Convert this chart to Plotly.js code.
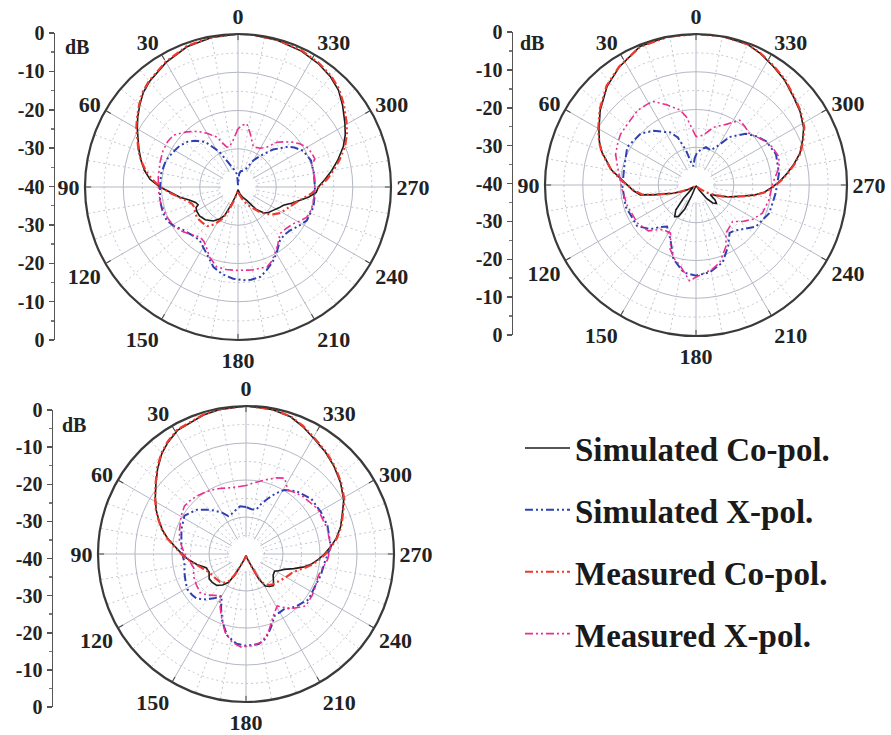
<!DOCTYPE html>
<html><head><meta charset="utf-8">
<script src="https://cdn.plot.ly/plotly-3.0.1.min.js"></script>
<style>html,body{margin:0;padding:0;background:#fff}#chart{width:891px;height:735px}</style>
</head><body><div id="chart"></div>
<script>
// ---------- angular / radial labels ----------
const ANG_TICKS = [0,30,60,90,120,150,180,210,240,270,300,330];
const ANG_MINOR = [10,20,40,50,70,80,100,110,130,140,160,170,190,200,220,230,250,260,280,290,310,320,340,350];
const RING_MAJOR = [-30,-20,-10];
const RING_MINOR = [-35,-25,-15,-5];
const SCALE_VALS = [40,30,20,10,0,-10,-20,-30,-40];
const SCALE_TEXT = ['0','-10','-20','-30','-40','-30','-20','-10','0'];
const SERIES_NAMES = ['Simulated Co-pol.','Simulated X-pol.','Measured Co-pol.','Measured X-pol.'];

// ---------- Plot 1 (top-left) ----------
const p1SimCoT = [0,10,20,30,40,45,50,55,60,65,70,75,80,85,90,95,100,105,110,114,116,120,127,135,144,150,155,160,165,172,180,195,205,213,219,225,230,237,243,248,253,258,262,266,270,275,280,285,291,296,301,308,314,320,327,335,345,355,360];
const p1SimCoR = [0,-0.3,-1.0,-2.4,-4.0,-5.0,-6.5,-8.0,-9.6,-11.2,-12.5,-13.8,-15.2,-16.9,-19.6,-22.5,-24.6,-26.8,-28.2,-28.6,-27.8,-27.5,-27.4,-27.9,-29.0,-30.3,-31.8,-35.5,-37.5,-38.6,-39.3,-38.2,-37.0,-35.8,-32.4,-30.4,-29.6,-28.9,-28.0,-27.2,-25.4,-23.4,-21.3,-19.5,-19.0,-17.2,-15.1,-13.0,-10.5,-8.8,-7.4,-5.3,-3.5,-2.4,-1.5,-0.8,-0.3,0,0];
const p1SimXT = [0,4,10,15,22,28,36,43,48,55,60,67,72,80,90,100,108,115,122,128,135,144,150,155,163,170,177,183,188,194,199,205,210,218,224,230,237,244,255,265,270,280,290,299,305,309,317,325,330,337,345,350,355,360];
const p1SimXR = [-39.5,-36.8,-35.6,-35.0,-33.0,-29.5,-25.4,-23.5,-22.3,-21.3,-20.9,-20.2,-19.9,-19.6,-19.6,-19.3,-19.3,-19.4,-20.5,-21.8,-22.5,-22.9,-21.8,-20.7,-18.1,-16.8,-16.0,-15.6,-15.5,-15.8,-17.0,-18.5,-19.9,-22.2,-22.6,-22.3,-21.2,-20.0,-19.6,-19.8,-19.9,-19.8,-19.7,-20.5,-22.0,-23.3,-26.6,-30.2,-32.0,-35.0,-35.6,-35.8,-36.5,-39.5];
const p1MeasCoT = [0,10,20,30,40,45,50,55,60,65,70,75,80,85,90,95,100,105,110,115,120,127,135,142,148,153,158,163,170,180,190,200,207,213,220,226,232,238,244,250,255,260,265,270,275,280,285,291,296,301,308,314,320,327,335,345,355,360];
const p1MeasCoR = [0,-0.2,-0.8,-2.2,-3.8,-4.8,-6.3,-7.8,-9.3,-11.0,-12.3,-13.8,-15.5,-17.5,-19.8,-22.2,-24.4,-26.2,-27.2,-27.4,-27.0,-26.6,-26.8,-27.0,-28.5,-30.5,-33.0,-36.0,-38.2,-39.0,-38.0,-36.6,-35.0,-33.8,-31.6,-29.8,-28.4,-27.1,-26.3,-25.4,-24.3,-22.8,-20.7,-18.8,-16.6,-14.6,-12.5,-10.0,-8.3,-6.9,-4.9,-3.2,-2.1,-1.3,-0.6,-0.2,0,0];
const p1MeasXT = [0,6,12,16,20,23,30,36,43,51,57,64,72,83,92,100,113,120,127,135,143,148,152,158,165,172,179,190,200,204,207,214,222,229,236,241,246,252,258,270,280,287,290,295,300,305,309,314,319,324,330,339,343,347,352,356,360];
const p1MeasXR = [-24.8,-27.7,-29.3,-29.1,-27.5,-25.8,-23.8,-22.0,-20.3,-18.4,-18.1,-18.2,-18.6,-19.0,-19.2,-19.3,-19.8,-20.3,-21.1,-22.5,-23.6,-23.2,-22.3,-20.2,-18.4,-18.2,-18.2,-18.0,-17.8,-18.6,-19.5,-21.5,-23.6,-23.4,-22.7,-21.6,-20.4,-20.0,-19.9,-19.9,-19.8,-19.8,-18.6,-18.8,-19.2,-20.3,-21.4,-23.0,-24.5,-27.1,-28.3,-28.8,-27.5,-25.7,-23.3,-23.8,-24.8];

// ---------- Plot 2 (top-right) ----------
const p2SimCoT = [0,11,22,33,42,52,60,66,71,80,87,95,100,103,106,110,115,120,127,133,137,141,146,151,155,158,163,180,200,212,218,223,228,232,236,240,245,249,253,257,260,264,269,273,277,282,287,293,298,305,312,320,327,334,340,350,360];
const p2SimCoR = [0,0,-0.4,-2.7,-4.8,-7.8,-10.3,-12.0,-13.7,-17.3,-20.7,-23.3,-25.0,-28.4,-31.5,-33.6,-36.0,-37.8,-39.3,-38.5,-35.0,-31.5,-29.9,-30.5,-33.0,-37.0,-39.5,-39.7,-39.7,-38.5,-35.5,-33.5,-32.7,-33.6,-35.4,-34.8,-33.0,-31.3,-29.5,-27.0,-24.5,-21.8,-19.5,-17.6,-15.8,-13.5,-11.2,-9.3,-7.7,-6.3,-5.2,-3.6,-2.5,-1.2,-0.3,0,0];
const p2SimXT = [0,3,8,12,16,21,26,30,38,47,61,76,91,107,125,134,140,145,150,155,163,172,180,189,199,208,215,220,224,235,249,264,278,291,302,309,316,325,332,337,345,352,358,360];
const p2SimXR = [-32.0,-33.0,-35.0,-34.0,-30.5,-26.5,-24.5,-23.8,-21.8,-20.0,-19.2,-20.4,-20.5,-20.5,-21.0,-23.2,-25.5,-26.6,-25.5,-24.0,-19.5,-16.6,-16.0,-16.6,-18.3,-21.8,-24.5,-24.2,-23.5,-20.7,-19.2,-18.8,-17.8,-17.3,-18.1,-19.5,-21.1,-24.5,-28.6,-30.0,-29.6,-30.5,-31.5,-32.0];
const p2MeasCoT = [0,11,22,33,42,52,60,66,71,80,87,95,100,103,106,110,115,120,130,150,180,210,225,235,242,248,253,257,260,264,269,273,277,282,287,293,298,305,312,320,327,334,340,350,360];
const p2MeasCoR = [0,-0.1,-0.5,-2.6,-4.6,-7.6,-10.1,-11.9,-13.6,-17.2,-20.5,-23.5,-25.5,-28.6,-31.6,-33.8,-36.2,-38.0,-39.3,-39.6,-39.5,-39.5,-38.5,-36.5,-34.5,-31.5,-29.2,-26.8,-24.3,-21.6,-19.3,-17.4,-15.6,-13.3,-11.0,-9.1,-7.5,-6.1,-5.0,-3.4,-2.3,-1.1,-0.3,0,0];
const p2MeasXT = [0,4,8,12,20,27,31,38,48,56,62,69,76,82,94,107,123,134,141,147,152,156,158,164,169,176,182,191,197,206,212,219,225,232,239,247,258,271,282,289,297,305,314,320,326,333,343,352,360];
const p2MeasXR = [-27.2,-25.0,-21.8,-19.7,-17.4,-15.2,-15.0,-14.9,-15.7,-15.9,-16.5,-17.2,-18.5,-19.4,-20.4,-21.0,-21.5,-22.5,-24.9,-25.5,-25.6,-23.5,-21.7,-19.5,-18.2,-14.6,-16.0,-17.3,-18.5,-21.9,-25.0,-25.8,-26.3,-24.3,-22.4,-20.9,-20.3,-19.7,-17.5,-16.8,-17.5,-18.8,-20.4,-19.8,-19.3,-21.9,-24.0,-26.7,-27.2];

// ---------- Plot 3 (bottom-left) ----------
const p3SimCoT = [0,10,17,29,35,40,46,52,58,64,69,74,79,84,89,95,102,109,116,124,130,137,143,148,152,155,165,180,195,204,207,211,216,221,225,232,239,244,248,253,257,261,266,270,275,280,286,293,299,307,315,322,329,336,342,350,360];
const p3SimCoR = [0,-0.3,-0.7,-1.8,-3.2,-4.6,-6.8,-9.1,-11.1,-13.0,-14.8,-16.5,-18.5,-20.7,-22.4,-24.2,-26.4,-28.6,-28.9,-28.0,-28.1,-28.4,-29.5,-30.9,-33.5,-36.4,-38.8,-39.6,-38.8,-36.5,-32.3,-29.9,-29.2,-28.7,-29.5,-30.7,-31.0,-29.8,-28.9,-26.5,-24.2,-22.2,-20.3,-18.8,-17.0,-15.2,-13.4,-11.7,-9.8,-8.0,-6.4,-5.1,-3.9,-2.3,-1.0,-0.3,0];
const p3SimXT = [0,7,15,20,25,30,35,40,48,58,69,83,90,98,107,115,121,127,132,139,145,150,155,161,167,174,180,188,193,198,205,210,215,220,224,234,245,254,264,275,289,299,310,321,329,334,338,343,347,353,360];
const p3SimXR = [-27.3,-27.0,-28.0,-28.5,-28.7,-27.1,-25.8,-24.4,-22.1,-20.4,-21.3,-22.4,-22.8,-23.2,-22.6,-22.0,-21.5,-21.7,-22.0,-23.7,-25.5,-26.9,-24.0,-20.5,-17.4,-15.6,-15.2,-15.4,-16.5,-18.7,-21.6,-21.8,-21.9,-21.0,-20.4,-19.1,-19.4,-19.0,-18.6,-17.0,-16.7,-16.8,-16.9,-18.2,-19.8,-21.8,-23.7,-25.8,-27.7,-27.8,-27.3];
const p3MeasCoT = [0,10,17,29,35,40,46,52,58,64,69,74,79,84,89,95,102,109,116,124,130,137,143,148,152,155,165,180,195,204,207,211,216,222,230,239,248,253,257,261,266,270,275,280,286,293,299,307,315,322,329,336,342,350,360];
const p3MeasCoR = [0,-0.2,-0.6,-1.6,-3.0,-4.4,-6.6,-9.0,-11.0,-12.9,-14.7,-16.4,-18.4,-20.5,-22.2,-24.0,-26.2,-27.8,-28.8,-29.3,-29.5,-29.7,-30.3,-31.5,-33.8,-36.4,-38.8,-39.5,-38.7,-36.3,-32.6,-30.6,-29.6,-29.0,-28.5,-27.6,-26.5,-25.2,-23.6,-21.8,-20.0,-18.5,-16.8,-15.0,-13.2,-11.5,-9.6,-7.8,-6.2,-4.9,-3.7,-2.1,-0.9,-0.2,0];
const p3MeasXT = [0,8,15,22,28,35,40,46,52,60,70,78,89,97,105,113,122,130,137,143,148,153,158,165,171,177,184,190,196,204,211,219,229,238,245,253,260,266,275,287,302,315,322,327,330,333,338,345,354,360];
const p3MeasXR = [-21.5,-21.7,-21.5,-20.9,-20.4,-19.9,-19.5,-19.1,-18.9,-19.7,-20.9,-21.6,-23.3,-24.6,-25.4,-24.6,-24.2,-23.8,-24.8,-26.0,-26.7,-24.5,-22.1,-18.1,-15.9,-14.8,-15.2,-15.8,-18.0,-21.8,-23.6,-20.9,-18.6,-18.9,-19.3,-19.6,-18.9,-17.9,-17.0,-17.0,-17.1,-18.1,-18.8,-19.4,-18.2,-17.0,-17.8,-19.2,-20.7,-21.5];

// ---------- styles ----------
const SERIF = 'Liberation Serif, Times New Roman, serif';
const DASH = '8px,3px,2px,3px,2px,3px';
const STYLES = [
  {color:'#1c1c1c', width:1.6, dash:'solid'},
  {color:'#2f40b2', width:2.0, dash:DASH},
  {color:'#ee3a2c', width:2.2, dash:DASH},
  {color:'#ec2f8e', width:1.6, dash:DASH}
];
const HOLE_DB = -35.5;

const PLOTS = [
  {series:[[p1SimCoT,p1SimCoR],[p1SimXT,p1SimXR],[p1MeasCoT,p1MeasCoR],[p1MeasXT,p1MeasXR]],
   px:{cx:238, cy:187, R:153}, scale:{x:55, top:33, bottom:340}, dB:{x:77, y:47}},
  {series:[[p2SimCoT,p2SimCoR],[p2SimXT,p2SimXR],[p2MeasCoT,p2MeasCoR],[p2MeasXT,p2MeasXR]],
   px:{cx:696, cy:185, R:151}, scale:{x:513, top:32, bottom:335}, dB:{x:532, y:43}},
  {series:[[p3SimCoT,p3SimCoR],[p3SimXT,p3SimXR],[p3MeasCoT,p3MeasCoR],[p3MeasXT,p3MeasXR]],
   px:{cx:246, cy:554, R:148}, scale:{x:53, top:410, bottom:707}, dB:{x:74, y:425}}
];

const W = 891, H = 735;
const traces = [];
const layout = {
  width:W, height:H, margin:{l:0,r:0,t:0,b:0},
  paper_bgcolor:'#fff', plot_bgcolor:'rgba(0,0,0,0)',
  showlegend:true,
  legend:{x:520/W, y:1-420/H, xanchor:'left', yanchor:'top', bgcolor:'rgba(0,0,0,0)',
          font:{family:SERIF, size:33, weight:'bold', color:'#1a1a1a'},
          tracegroupgap:16, itemwidth:45},
  annotations:[]
};

const holeTheta = [];
for (let a = 0; a <= 360; a += 5) holeTheta.push(a);

PLOTS.forEach((p, i) => {
  const baseId = 'polar' + (2*i+1 === 1 ? '' : (2*i+1));
  const mainId = 'polar' + (2*i+2);
  const dom = {x:[(p.px.cx-p.px.R)/W, (p.px.cx+p.px.R)/W], y:[1-(p.px.cy+p.px.R)/H, 1-(p.px.cy-p.px.R)/H]};
  layout[baseId] = {
    domain:dom, bgcolor:'#fff',
    radialaxis:{range:[-40,0], tickmode:'array', tickvals:RING_MINOR, showticklabels:false, ticks:'', showline:false,
                gridcolor:'#c3c7d1', griddash:'2px,3px', gridwidth:1},
    angularaxis:{rotation:90, direction:'counterclockwise', tickmode:'array', tickvals:ANG_MINOR, showticklabels:false,
                 ticks:'', showline:false, gridcolor:'#c3c7d1', griddash:'2px,3px', gridwidth:1}
  };
  layout[mainId] = {
    domain:dom, bgcolor:'rgba(0,0,0,0)',
    radialaxis:{range:[-40,0], tickmode:'array', tickvals:RING_MAJOR, showticklabels:false, ticks:'', showline:false,
                gridcolor:'#b4b8c4', gridwidth:1},
    angularaxis:{rotation:90, direction:'counterclockwise', tickmode:'array', tickvals:ANG_TICKS,
                 ticktext:ANG_TICKS.map(String), ticks:'inside', ticklen:5, tickcolor:'#444',
                 showline:true, linecolor:'#3a3a3a', linewidth:2.2, gridcolor:'#b4b8c4', gridwidth:1,
                 tickfont:{family:SERIF, size:22, weight:'bold', color:'#222'}}
  };
  // empty trace so the dotted-grid base subplot is drawn
  traces.push({type:'scatterpolar', subplot:baseId, mode:'lines', theta:[], r:[], showlegend:false, hoverinfo:'skip'});
  // white centre disk (hides the grid in the middle)
  traces.push({type:'scatterpolar', subplot:mainId, mode:'lines', theta:holeTheta, r:holeTheta.map(()=>HOLE_DB),
               fill:'toself', fillcolor:'#fff', line:{width:0, color:'#fff'}, showlegend:false, hoverinfo:'skip'});
  p.series.forEach((s, k) => {
    traces.push({type:'scatterpolar', subplot:mainId, mode:'lines', theta:s[0], r:s[1],
                 name:SERIES_NAMES[k], legendgroup:'g'+k, showlegend:i===0,
                 line:{color:STYLES[k].color, width:STYLES[k].width, dash:STYLES[k].dash}});
  });
  // left dB scale
  const xa = 'xaxis' + (i===0 ? '' : (i+1));
  const ya = 'yaxis' + (i===0 ? '' : (i+1));
  const xr = 'x' + (i===0 ? '' : (i+1));
  const yr = 'y' + (i===0 ? '' : (i+1));
  layout[xa] = {domain:[p.scale.x/W, (p.scale.x+20)/W], visible:false, range:[0,1], fixedrange:true};
  layout[ya] = {domain:[1-p.scale.bottom/H, 1-p.scale.top/H], anchor:xr, range:[-40,40],
                tickmode:'array', tickvals:SCALE_VALS, ticktext:SCALE_TEXT, showgrid:false, zeroline:false,
                showline:true, linecolor:'#555', linewidth:1.5, ticks:'outside', ticklen:5, tickwidth:1.5, tickcolor:'#555',
                minor:{dtick:5, ticks:'outside', ticklen:3, tickcolor:'#777', showgrid:false},
                tickfont:{family:SERIF, size:20, weight:'bold', color:'#222'}, fixedrange:true};
  traces.push({type:'scatter', x:[], y:[], xaxis:xr, yaxis:yr, showlegend:false, hoverinfo:'skip'});
  layout.annotations.push({text:'dB', xref:'paper', yref:'paper', x:p.dB.x/W, y:1-p.dB.y/H,
                           xanchor:'center', yanchor:'middle', showarrow:false,
                           font:{family:SERIF, size:20, weight:'bold', color:'#222'}});
});

Plotly.newPlot('chart', traces, layout, {staticPlot:true});
</script></body></html>
